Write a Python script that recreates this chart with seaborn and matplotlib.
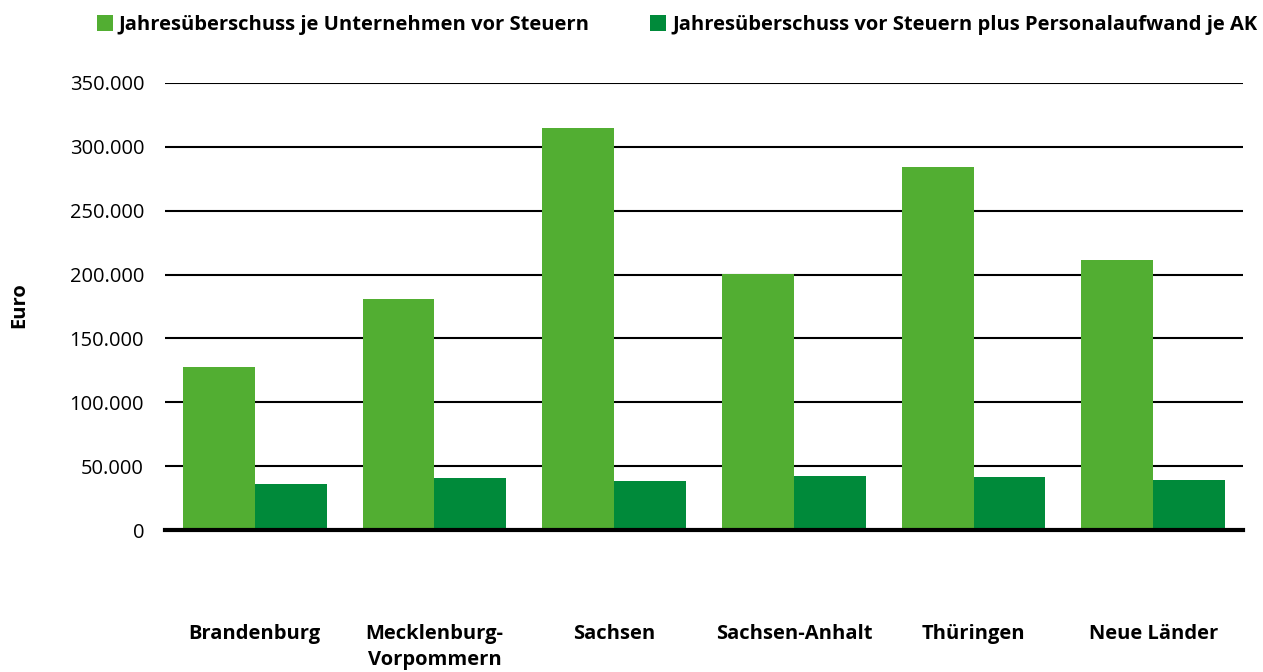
import matplotlib.pyplot as plt
import matplotlib.ticker as mticker
import seaborn as sns
import pandas as pd

laender = ['Brandenburg', 'Mecklenburg-\nVorpommern', 'Sachsen', 'Sachsen-Anhalt', 'Thüringen', 'Neue Länder']
ueberschuss_unternehmen = [127700, 180500, 314800, 200800, 284100, 211500]
ueberschuss_personal_ak = [35700, 41100, 38300, 42400, 41400, 39500]
serien = ['Jahresüberschuss je Unternehmen vor Steuern',
          'Jahresüberschuss vor Steuern plus Personalaufwand je AK']
farben = ['#52AE32', '#008A3A']

df = pd.DataFrame({
    'Land': laender * 2,
    'Wert': ueberschuss_unternehmen + ueberschuss_personal_ak,
    'Serie': [serien[0]] * len(laender) + [serien[1]] * len(laender),
})

sns.set_theme(style='white')
plt.rcParams['font.family'] = ['Open Sans', 'DejaVu Sans']
plt.rcParams['text.color'] = 'black'
plt.rcParams['axes.labelcolor'] = 'black'

fig, ax = plt.subplots(figsize=(12.63, 6.72), dpi=100)
fig.subplots_adjust(left=0.1306, right=0.9842, top=0.8765, bottom=0.2113)

sns.barplot(data=df, x='Land', y='Wert', hue='Serie', palette=farben,
            width=0.8, saturation=1, linewidth=0, ax=ax, legend=True)

ax.set_ylim(0, 350000)
ax.set_xlim(-0.5, 5.5)
ax.yaxis.set_major_locator(mticker.MultipleLocator(50000))
ax.yaxis.set_major_formatter(mticker.FuncFormatter(lambda v, p: f'{int(v):,}'.replace(',', '.')))
ax.grid(axis='y', color='black', linewidth=1.5)
ax.set_axisbelow(True)
for s in ['left', 'right', 'top']:
    ax.spines[s].set_visible(False)
ax.spines['bottom'].set_color('black')
ax.spines['bottom'].set_linewidth(3)
ax.spines['bottom'].set_zorder(5)

ax.tick_params(axis='y', length=0, labelsize=14.5, pad=15, colors='black')
ax.tick_params(axis='x', length=0, labelsize=14.5, pad=68, colors='black')
for lbl in ax.get_xticklabels():
    lbl.set_fontweight('bold')
    lbl.set_verticalalignment('top')
    lbl.set_linespacing(1.4)

ax.set_xlabel('')
ax.set_ylabel('Euro', fontsize=14.5, fontweight='bold', color='black')
ax.yaxis.set_label_coords(-0.126, 0.503)

leg = ax.legend(loc='center', bbox_to_anchor=(0.475, 1.13), ncol=2, frameon=False,
                prop={'weight': 'bold', 'size': 14.5}, handlelength=0.8,
                handleheight=0.8, columnspacing=3.0, handletextpad=0.3, borderpad=0)
for t in leg.get_texts():
    t.set_color('black')

plt.savefig('out.png', dpi=100)
plt.close()
